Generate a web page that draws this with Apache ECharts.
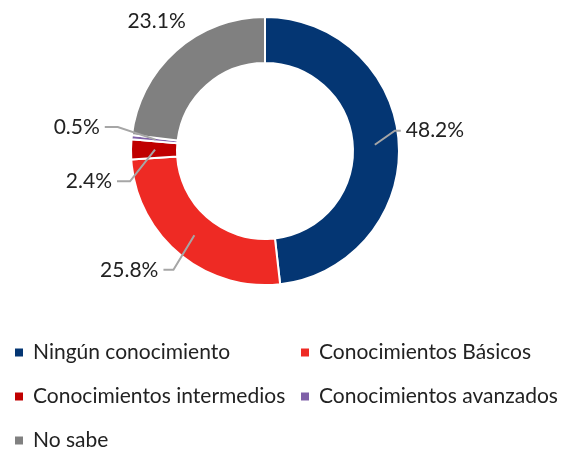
<!DOCTYPE html>
<html>
<head>
<meta charset="utf-8">
<script src="https://cdn.jsdelivr.net/npm/echarts@6/dist/echarts.min.js"></script>
<style>
  html, body { margin: 0; padding: 0; background: #fff; }
  #chart { width: 563px; height: 451px; }
</style>
</head>
<body>
<div id="chart"></div>
<script>
  const categories = ['Ningún conocimiento', 'Conocimientos Básicos', 'Conocimientos intermedios', 'Conocimientos avanzados', 'No sabe'];
  const values = [48.2, 25.8, 2.4, 0.5, 23.1];
  const colors = ['#043673', '#EE2A24', '#C00000', '#7F60A8', '#808080'];

  // leader lines: radial part, horizontal part, then a nudge for the label
  const lineLen = [20, 45, 22, 35, 20];
  const lineLen2 = [6, 10, 13, 13, 0];
  const shift = [[0, -13], [8, 0], [-3, 32], [-3, -9], [12, -33]];

  const font = 'Lato, "Open Sans", sans-serif';
  const center = [265, 151];

  let myChart = echarts.init(document.getElementById('chart'));

  let ringData = categories.map(function (name, i) {
    return { name: name, value: values[i], itemStyle: { color: colors[i] } };
  });
  // invisible inner pie just to hang labels on, so the lines start mid-ring
  let labelData = categories.map(function (name, i) {
    return {
      name: name,
      value: values[i],
      labelLine: { show: i !== 4, length: lineLen[i], length2: lineLen2[i] }
    };
  });

  let legendText = { fontFamily: font, fontSize: 21, lineHeight: 20, color: '#222', padding: [0, 0, 0, 4] };

  let option = {
    animation: false,
    legend: [{
      orient: 'vertical',
      left: 13,
      top: 342,
      padding: 0,
      itemWidth: 10,
      itemHeight: 10,
      itemGap: 23,
      icon: 'rect',
      data: [categories[0], categories[2], categories[4]],
      textStyle: legendText
    }, {
      orient: 'vertical',
      left: 299,
      top: 342,
      padding: 0,
      itemWidth: 10,
      itemHeight: 10,
      itemGap: 23,
      icon: 'rect',
      data: [categories[1], categories[3]],
      textStyle: legendText
    }],
    series: [{
      type: 'pie',
      z: 2,
      center: center,
      radius: [88, 134],
      startAngle: 90,
      clockwise: true,
      label: { show: false },
      labelLine: { show: false },
      emphasis: { disabled: true },
      itemStyle: { borderColor: '#fff', borderWidth: 2 },
      data: ringData
    }, {
      type: 'pie',
      z: 5,
      center: center,
      radius: [0, 110],
      startAngle: 90,
      clockwise: true,
      silent: true,
      avoidLabelOverlap: false,
      emphasis: { disabled: true },
      itemStyle: { color: 'rgba(0,0,0,0)', borderWidth: 0 },
      label: {
        show: true,
        position: 'outside',
        fontFamily: font,
        fontSize: 21,
        color: '#222',
        distanceToLabelLine: 5,
        formatter: function (p) { return p.value.toFixed(1) + '%'; }
      },
      labelLine: { lineStyle: { color: '#A6A6A6', width: 2 } },
      labelLayout: function (p) {
        let s = shift[p.dataIndex];
        let out = { dx: s[0], dy: s[1] };
        let pts = p.labelLinePoints;
        if (pts && pts.length === 3) {
          out.labelLinePoints = [
            [pts[0][0], pts[0][1]],
            [pts[1][0] + s[0], pts[1][1] + s[1]],
            [pts[2][0] + s[0], pts[2][1] + s[1]]
          ];
        }
        return out;
      },
      data: labelData
    }]
  };

  myChart.setOption(option);
</script>
</body>
</html>
